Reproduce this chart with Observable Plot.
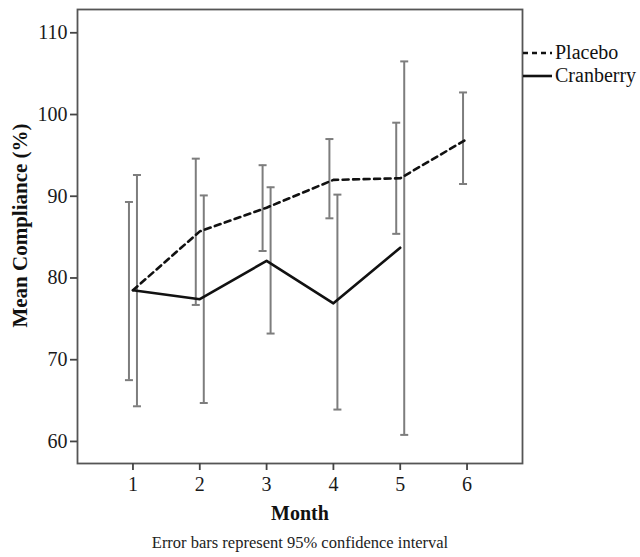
<!DOCTYPE html>
<html>
<head>
<meta charset="utf-8">
<script src="https://cdn.jsdelivr.net/npm/d3@7"></script>
<script src="https://cdn.jsdelivr.net/npm/@observablehq/plot@0.6"></script>
<style>
  html, body { margin: 0; padding: 0; background: #fff; }
  #wrap { position: relative; width: 640px; height: 557px; overflow: hidden; }
  .leg { position: absolute; left: 523px; display: flex; align-items: center; font-family: "Liberation Serif", "Times New Roman", serif; font-size: 20px; color: #111; white-space: nowrap; }
  .leg svg { display: block; margin-right: 3px; }
</style>
</head>
<body>
<div id="wrap"></div>
<script>
// ---- data ----
const months = [1, 2, 3, 4, 5, 6];
const placeboMean = [78.5, 85.7, 88.6, 92.0, 92.2, 97.0];
const placeboLo   = [67.5, 76.7, 83.3, 87.3, 85.4, 91.5];
const placeboHi   = [89.3, 94.6, 93.8, 97.0, 99.0, 102.7];
const cranberryMonths = [1, 2, 3, 4, 5];
const cranberryMean = [78.5, 77.4, 82.1, 76.9, 83.7];
const cranberryLo   = [64.3, 64.7, 73.2, 63.9, 60.8];
const cranberryHi   = [92.6, 90.1, 91.1, 90.2, 106.5];
const yTicks = [60, 70, 80, 90, 100, 110];
const seriesNames = ["Placebo", "Cranberry"];

const placebo = months.map((m, i) => ({month: m, mean: placeboMean[i], lo: placeboLo[i], hi: placeboHi[i]}));
const cranberry = cranberryMonths.map((m, i) => ({month: m, mean: cranberryMean[i], lo: cranberryLo[i], hi: cranberryHi[i]}));

const cap = { draw(context, size) { const r = Math.sqrt(size / Math.PI); context.moveTo(-r, 0); context.lineTo(r, 0); } };
const barColor = "#7d7d7d";

function errorBars(data, dx) {
  return [
    Plot.ruleX(data, {x: "month", y1: "lo", y2: "hi", dx, stroke: barColor, strokeWidth: 2}),
    Plot.dot(data, {x: "month", y: "hi", dx, symbol: cap, r: 4, fill: "none", stroke: barColor, strokeWidth: 2}),
    Plot.dot(data, {x: "month", y: "lo", dx, symbol: cap, r: 4, fill: "none", stroke: barColor, strokeWidth: 2})
  ];
}

const chart = Plot.plot({
  width: 640,
  height: 557,
  marginLeft: 77,
  marginRight: 118,
  marginTop: 9,
  marginBottom: 94,
  style: {fontFamily: "'Liberation Serif', 'Times New Roman', serif", fontSize: "18px", color: "#222", background: "#fff"},
  x: {domain: [0.17, 6.83]},
  y: {domain: [57.3, 112.85]},
  marks: [
    ...errorBars(placebo, -4),
    ...errorBars(cranberry, 4),
    Plot.line(placebo, {x: "month", y: "mean", stroke: "#111", strokeWidth: 2.6, strokeDasharray: "6,4.5"}),
    Plot.line(cranberry, {x: "month", y: "mean", stroke: "#111", strokeWidth: 2.6}),
    Plot.frame({stroke: "#555", strokeWidth: 1.8}),
    Plot.axisX(months, {tickSize: 7, tickPadding: 6, stroke: "#444", strokeWidth: 1.8, fontSize: 20, fill: "#1a1a1a", label: null, tickFormat: d => String(d)}),
    Plot.axisY(yTicks, {tickSize: 7, tickPadding: 3, stroke: "#444", strokeWidth: 1.8, fontSize: 20, fill: "#1a1a1a", label: null}),
    Plot.text(["Month"], {frameAnchor: "bottom", dy: 56, fontWeight: "bold", fontSize: 20, fill: "#111"}),
    Plot.text(["Mean Compliance (%)"], {frameAnchor: "left", textAnchor: "middle", dx: -57, dy: -11, rotate: -90, fontWeight: "bold", fontSize: 21, fill: "#111"}),
    Plot.text(["Error bars represent 95% confidence interval"], {frameAnchor: "bottom", dy: 84, fontSize: 16.5, fill: "#222"})
  ]
});

const wrap = document.getElementById("wrap");
wrap.appendChild(chart);

// legend overlay
const legendItems = [
  {name: seriesNames[0], dash: "5,4", top: 41},
  {name: seriesNames[1], dash: null, top: 64}
];
for (const it of legendItems) {
  const div = document.createElement("div");
  div.className = "leg";
  div.style.top = it.top + "px";
  div.innerHTML = `<svg width="29" height="22"><line x1="0" x2="29" y1="11" y2="11" stroke="#111" stroke-width="2.6" ${it.dash ? `stroke-dasharray="${it.dash}"` : ""}/></svg><span>${it.name}</span>`;
  wrap.appendChild(div);
}
</script>
</body>
</html>
